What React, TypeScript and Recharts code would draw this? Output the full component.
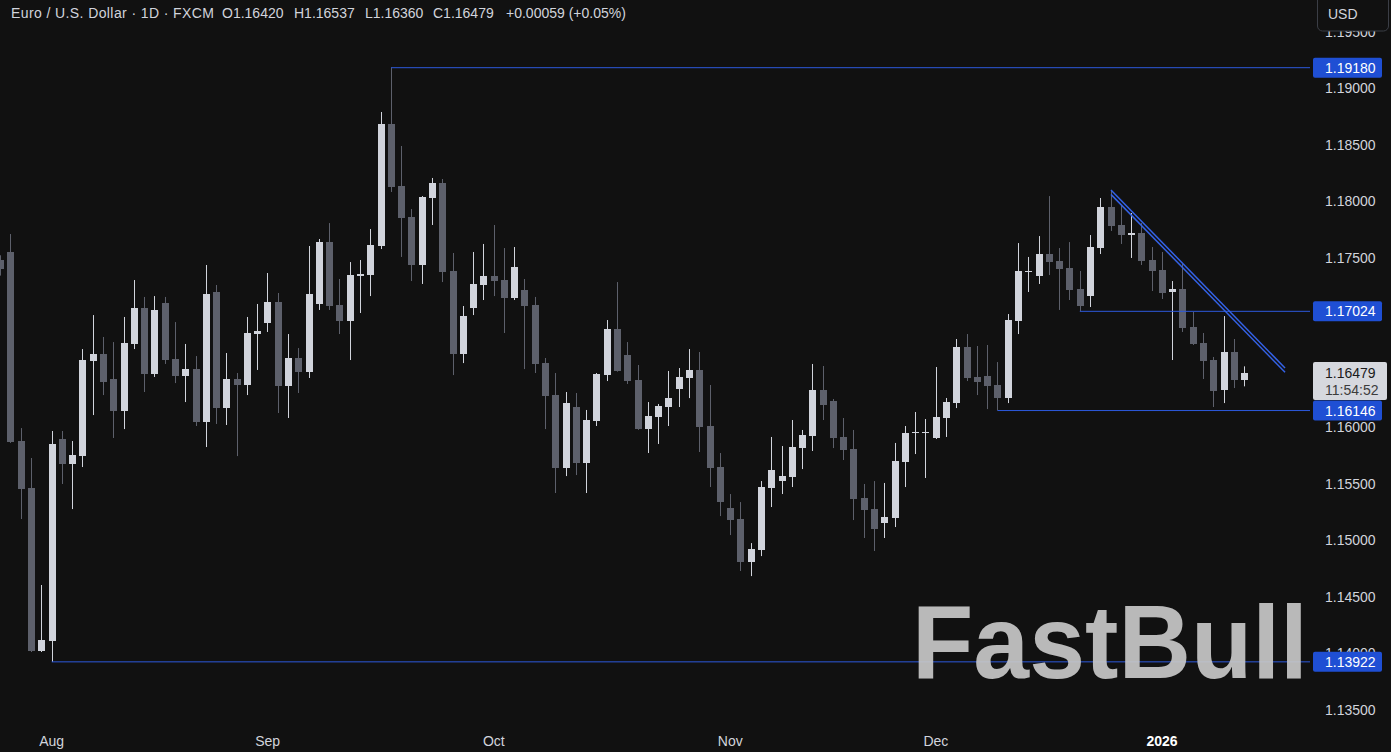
import React from 'react';
import { ComposedChart, Bar, XAxis, YAxis, ReferenceLine } from 'recharts';

// EUR/USD daily candles, late Jul 2025 -> mid Jan 2026 (FXCM)
const opens = [
  1.17478, 1.17549, 1.15876, 1.1546, 1.14018, 1.14106, 1.15894, 1.15673, 1.15743, 1.16584,
  1.16646, 1.16425, 1.16142, 1.16735, 1.17053, 1.16469, 1.17097, 1.16602, 1.16451, 1.16513,
  1.16044, 1.17195, 1.16168, 1.16425, 1.16372, 1.16823, 1.1692, 1.17106, 1.16363, 1.16611,
  1.16487, 1.17089, 1.17637, 1.1708, 1.16938, 1.17336, 1.17345, 1.17602, 1.18682, 1.18133,
  1.17859, 1.17434, 1.18027, 1.18159, 1.17381, 1.16646, 1.17053, 1.17257, 1.17336, 1.17301,
  1.17142, 1.17213, 1.1708, 1.16566, 1.16283, 1.15637, 1.16177, 1.15681, 1.16053, 1.1646,
  1.16867, 1.16637, 1.16416, 1.15982, 1.16089, 1.16177, 1.16336, 1.16434, 1.16505, 1.16009,
  1.15646, 1.15283, 1.15186, 1.14805, 1.14911, 1.1546, 1.15522, 1.15558, 1.15814, 1.1592,
  1.16328, 1.1623, 1.15912, 1.15805, 1.15372, 1.15274, 1.1515, 1.15195, 1.1569, 1.15947,
  1.15947, 1.15903, 1.1608, 1.16212, 1.16708, 1.16443, 1.16451, 1.16372, 1.16256, 1.16938,
  1.17372, 1.17336, 1.17531, 1.17469, 1.17407, 1.17221, 1.17159, 1.17584, 1.17947, 1.17788,
  1.17699, 1.17717, 1.17478, 1.1739, 1.17195, 1.17221, 1.16885, 1.16743, 1.16593, 1.16328,
  1.16664, 1.1642,
];
const highs = [
  1.1752, 1.17708, 1.15991, 1.15726, 1.14602, 1.15965, 1.15965, 1.15876, 1.1669, 1.16991,
  1.16797, 1.16752, 1.16974, 1.17301, 1.17151, 1.17159, 1.17151, 1.16929, 1.16735, 1.16628,
  1.17434, 1.17257, 1.16655, 1.16478, 1.16974, 1.17089, 1.17363, 1.17186, 1.16823, 1.16699,
  1.17602, 1.17664, 1.17805, 1.1731, 1.1746, 1.17478, 1.17752, 1.18788, 1.1918, 1.18487,
  1.17929, 1.18044, 1.18204, 1.18195, 1.1754, 1.17071, 1.17549, 1.1762, 1.17788, 1.17584,
  1.17593, 1.1731, 1.17151, 1.16611, 1.16478, 1.1631, 1.16301, 1.16151, 1.16478, 1.16947,
  1.17283, 1.16752, 1.16549, 1.16221, 1.16204, 1.16496, 1.16522, 1.1669, 1.16664, 1.16372,
  1.1577, 1.15407, 1.15336, 1.14973, 1.15522, 1.15912, 1.15832, 1.16062, 1.15974, 1.16558,
  1.1654, 1.16248, 1.1608, 1.15974, 1.15496, 1.15522, 1.15505, 1.15859, 1.16009, 1.16133,
  1.16071, 1.16531, 1.16257, 1.16779, 1.16823, 1.16717, 1.16726, 1.16575, 1.17, 1.17628,
  1.17505, 1.1769, 1.18044, 1.17584, 1.17637, 1.17381, 1.17699, 1.18027, 1.18097, 1.17965,
  1.17894, 1.17805, 1.17593, 1.17549, 1.17292, 1.17443, 1.17018, 1.16832, 1.1662, 1.16982,
  1.16779, 1.16537,
];
const lows = [
  1.1734, 1.15859, 1.15186, 1.14009, 1.14009, 1.13922, 1.15496, 1.15274, 1.15646, 1.16106,
  1.16283, 1.15903, 1.15982, 1.1669, 1.1631, 1.16443, 1.16558, 1.16389, 1.16221, 1.16009,
  1.15823, 1.16027, 1.16018, 1.15743, 1.16283, 1.16505, 1.16841, 1.16124, 1.1608, 1.16301,
  1.16434, 1.17036, 1.17036, 1.16823, 1.16593, 1.17009, 1.17159, 1.17575, 1.1808, 1.17505,
  1.17292, 1.17266, 1.17788, 1.17283, 1.1646, 1.16566, 1.16991, 1.17124, 1.17159, 1.16832,
  1.17124, 1.16513, 1.16478, 1.15982, 1.15416, 1.15566, 1.15575, 1.15416, 1.16009, 1.16407,
  1.1649, 1.16381, 1.15975, 1.1577, 1.1585, 1.16009, 1.16177, 1.16256, 1.15779, 1.15469,
  1.15212, 1.15044, 1.14726, 1.14681, 1.14858, 1.15292, 1.15407, 1.15469, 1.15628, 1.15788,
  1.16062, 1.15814, 1.15708, 1.15177, 1.15018, 1.14903, 1.15018, 1.15115, 1.15469, 1.15761,
  1.15549, 1.15894, 1.15912, 1.16168, 1.16407, 1.16283, 1.16159, 1.16146, 1.16212, 1.16823,
  1.17195, 1.17266, 1.17345, 1.17036, 1.17124, 1.17024, 1.17062, 1.17531, 1.17735, 1.1762,
  1.17496, 1.17434, 1.17204, 1.17133, 1.16593, 1.16841, 1.16726, 1.16425, 1.16177, 1.16212,
  1.16345, 1.1636,
];
const closes = [
  1.17398, 1.15867, 1.15451, 1.14018, 1.14115, 1.1585, 1.15673, 1.15752, 1.16593, 1.16646,
  1.16398, 1.16142, 1.16743, 1.17053, 1.16469, 1.17036, 1.16593, 1.16451, 1.16513, 1.16044,
  1.17177, 1.16168, 1.16425, 1.16372, 1.16832, 1.1685, 1.17106, 1.16363, 1.16611, 1.16487,
  1.17177, 1.17637, 1.17071, 1.16938, 1.17345, 1.17354, 1.17611, 1.18682, 1.18124, 1.1785,
  1.17434, 1.18035, 1.18159, 1.17372, 1.16646, 1.16982, 1.17266, 1.17336, 1.17292, 1.17142,
  1.17416, 1.17071, 1.16558, 1.16274, 1.15637, 1.16212, 1.15681, 1.16062, 1.16469, 1.16867,
  1.16496, 1.16407, 1.15982, 1.16098, 1.16186, 1.16256, 1.16443, 1.16505, 1.16, 1.15637,
  1.15336, 1.15177, 1.14805, 1.1492, 1.15469, 1.1562, 1.15566, 1.15823, 1.15929, 1.16328,
  1.16195, 1.15903, 1.15796, 1.15363, 1.15266, 1.15097, 1.15204, 1.15699, 1.15947, 1.15956,
  1.15956, 1.16089, 1.16221, 1.16708, 1.16434, 1.16398, 1.16363, 1.16256, 1.16947, 1.17381,
  1.17381, 1.17531, 1.1746, 1.17398, 1.17213, 1.17071, 1.17593, 1.17947, 1.17779, 1.17699,
  1.17717, 1.17469, 1.17381, 1.17186, 1.17221, 1.16876, 1.16735, 1.16584, 1.16319, 1.16664,
  1.16416, 1.16479,
];

const monthTicks = [5, 26, 48, 71, 91, 113];
const monthLabels = ['Aug', 'Sep', 'Oct', 'Nov', 'Dec', '2026'];
const priceTicks = [1.135, 1.14, 1.145, 1.15, 1.155, 1.16, 1.165, 1.17, 1.175, 1.18, 1.185, 1.19, 1.195];

// horizontal levels drawn on the chart and where they start (bar index)
const levelPrices = [1.1918, 1.17024, 1.16146, 1.13922];
const levelStarts = [38, 105, 97, 5];

// falling trendline (double line)
const trendIdx = [108.03, 124.96];
const trendUpper = [1.18097, 1.16522];
const trendLower = [1.18059, 1.16484];

const lastPrice = 1.16479;
const countdown = '11:54:52';

const BG = '#111111';
const BULL = '#d1d4dc';
const BEAR = '#5d606b';
const TEXT = '#d1d4dc';
const LINE = '#2d59dc';
const TREND = '#3462e6';
const BADGE = '#1f4fd4';
const FONT = '"Liberation Sans", Arial, sans-serif';

const X_MIN = -0.03;
const X_MAX = 127.39;
const Y_DOMAIN = [1.13372, 1.19779];

const data = opens.map((o, i) => ({
  i,
  o,
  h: highs[i],
  l: lows[i],
  c: closes[i],
  range: [lows[i], highs[i]],
}));

const Candle = (props: any) => {
  const { x, y, width, height, payload } = props;
  if (x == null || y == null || !payload) return null;
  const { o, h, l, c } = payload;
  const top = Math.min(y, y + height);
  const span = Math.abs(height);
  const k = h - l > 0 ? span / (h - l) : 0;
  const cx = Math.floor(x + width / 2) + 0.5;
  const yo = top + (h - o) * k;
  const yc = top + (h - c) * k;
  const color = c >= o ? BULL : BEAR;
  const bTop = Math.round(Math.min(yo, yc));
  const bH = Math.max(1, Math.round(Math.abs(yo - yc)));
  return (
    <g>
      <line x1={cx} x2={cx} y1={top} y2={top + span} stroke={color} strokeWidth={1} />
      <rect x={cx - 3.5} y={bTop} width={7} height={bH} fill={color} />
    </g>
  );
};

const Badge = (props: any) => {
  const { viewBox, text } = props;
  if (!viewBox) return null;
  const right = viewBox.x + viewBox.width;
  const y = viewBox.y;
  return (
    <g>
      <rect x={right + 3} y={y - 10} width={69} height={20} rx={2} fill={BADGE} />
      <text x={right + 15} y={y + 5} fill="#ffffff" fontSize={14} fontFamily={FONT}>
        {text}
      </text>
    </g>
  );
};

const PriceTag = (props: any) => {
  const { viewBox } = props;
  if (!viewBox) return null;
  const right = viewBox.x + viewBox.width;
  const y = viewBox.y;
  return (
    <g>
      <rect x={right + 3} y={y - 11} width={74} height={38} rx={2} fill="#d6d8de" />
      <text x={right + 15} y={y + 5} fill="#1a1a1a" fontSize={14} fontFamily={FONT}>
        {lastPrice.toFixed(5)}
      </text>
      <text x={right + 15} y={y + 22} fill="#3c3c3c" fontSize={14} fontFamily={FONT}>
        {countdown}
      </text>
    </g>
  );
};

const PriceTick = (props: any) => {
  const { x, y, payload } = props;
  return (
    <text x={x + 7} y={y + 5} fill={TEXT} fontSize={14} fontFamily={FONT}>
      {Number(payload.value).toFixed(5)}
    </text>
  );
};

const MonthTick = (props: any) => {
  const { x, payload } = props;
  const label = monthLabels[monthTicks.indexOf(payload.value)];
  const strong = label === '2026';
  return (
    <text
      x={x}
      y={746}
      textAnchor="middle"
      fill={strong ? '#ffffff' : TEXT}
      fontWeight={strong ? 700 : 400}
      fontSize={14}
      fontFamily={FONT}
    >
      {label}
    </text>
  );
};

const layer: React.CSSProperties = { position: 'absolute', left: 0, top: 0 };

const App = () => {
  return (
    <div
      style={{
        position: 'absolute',
        left: 0,
        top: 0,
        width: 1391,
        height: 752,
        background: BG,
        overflow: 'hidden',
      }}
    >
      {/* candles + axes */}
      <div style={layer}>
        <ComposedChart
          width={1391}
          height={752}
          data={data}
          margin={{ top: 0, right: 0, bottom: 0, left: 0 }}
        >
          <XAxis
            dataKey="i"
            type="number"
            domain={[X_MIN, X_MAX]}
            allowDataOverflow
            ticks={monthTicks}
            interval={0}
            axisLine={false}
            tickLine={false}
            height={28}
            tick={<MonthTick />}
          />
          <YAxis
            orientation="right"
            type="number"
            domain={Y_DOMAIN}
            allowDataOverflow
            ticks={priceTicks}
            interval={0}
            axisLine={false}
            tickLine={false}
            width={81}
            tick={<PriceTick />}
          />
          <Bar dataKey="range" barSize={7} shape={<Candle />} isAnimationActive={false} />
        </ComposedChart>
      </div>

      {/* drawings layer: same axes, sits above the price scale labels */}
      <div style={layer}>
        <ComposedChart
          width={1391}
          height={752}
          data={data}
          margin={{ top: 0, right: 0, bottom: 0, left: 0 }}
        >
          <XAxis
            dataKey="i"
            type="number"
            domain={[X_MIN, X_MAX]}
            allowDataOverflow
            axisLine={false}
            tickLine={false}
            tick={false}
            height={28}
          />
          <YAxis
            orientation="right"
            type="number"
            domain={Y_DOMAIN}
            allowDataOverflow
            axisLine={false}
            tickLine={false}
            tick={false}
            width={81}
          />
          {levelPrices.map((p, k) => (
            <ReferenceLine
              key={`lvl-${k}`}
              segment={[
                { x: levelStarts[k], y: p },
                { x: X_MAX, y: p },
              ]}
              stroke={LINE}
              strokeWidth={1}
              ifOverflow="visible"
              label={<Badge text={p.toFixed(5)} />}
            />
          ))}
          <ReferenceLine
            segment={[
              { x: trendIdx[0], y: trendUpper[0] },
              { x: trendIdx[1], y: trendUpper[1] },
            ]}
            stroke={TREND}
            strokeWidth={1.5}
            ifOverflow="visible"
          />
          <ReferenceLine
            segment={[
              { x: trendIdx[0], y: trendLower[0] },
              { x: trendIdx[1], y: trendLower[1] },
            ]}
            stroke={TREND}
            strokeWidth={1.5}
            ifOverflow="visible"
          />
          <ReferenceLine
            y={lastPrice}
            stroke="none"
            strokeOpacity={0}
            ifOverflow="visible"
            label={<PriceTag />}
          />
        </ComposedChart>
      </div>

      <svg width={1391} height={752} style={{ ...layer, pointerEvents: 'none' }}>
        <g fontFamily={FONT} fontSize={14} fill={TEXT}>
          <text x={11} y={18} textLength={203} lengthAdjust="spacing">
            Euro / U.S. Dollar · 1D · FXCM
          </text>
          <text x={222} y={18}>O1.16420</text>
          <text x={294} y={18}>H1.16537</text>
          <text x={365} y={18}>L1.16360</text>
          <text x={433} y={18}>C1.16479</text>
          <text x={506} y={18}>+0.00059 (+0.05%)</text>
        </g>
        <rect x={1317.5} y={-8} width={71} height={39} rx={5} fill={BG} stroke="#3b3e46" />
        <text x={1328} y={19} fontFamily={FONT} fontSize={14} fill={TEXT}>
          USD
        </text>
        <text
          x={912}
          y={678}
          fontFamily={FONT}
          fontWeight={700}
          fontSize={104}
          textLength={396}
          lengthAdjust="spacingAndGlyphs"
          fill="#c8c8c8"
          fillOpacity={0.92}
        >
          FastBull
        </text>
      </svg>
    </div>
  );
};

export default App;
